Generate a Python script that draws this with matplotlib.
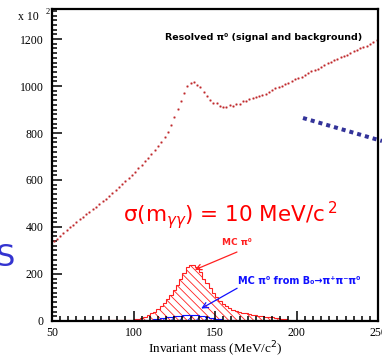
import numpy as np
import matplotlib.pyplot as plt
from matplotlib.lines import Line2D
from matplotlib.ticker import MultipleLocator

plt.rcParams['hatch.linewidth'] = 0.6

# resolved pi0 spectrum (signal + background), 2 MeV bins, centres 51..249
mass_centres = np.arange(51, 250, 2)
resolved = [340, 350, 362, 374, 386, 398, 410, 421, 432, 443,
            454, 465, 476, 487, 498, 509, 521, 533, 545, 557,
            569, 581, 594, 607, 621, 635, 649, 664, 679, 695,
            711, 727, 745, 763, 782, 803, 833, 868, 902, 936,
            972, 1000, 1013, 1017, 1004, 995, 975, 957, 940, 928,
            926, 915, 911, 911, 918, 917, 923, 924, 935, 936,
            945, 951, 953, 958, 963, 967, 975, 982, 990, 996,
            1001, 1008, 1014, 1021, 1028, 1034, 1040, 1048, 1055, 1062,
            1068, 1074, 1082, 1090, 1096, 1103, 1109, 1116, 1122, 1128,
            1134, 1141, 1147, 1153, 1160, 1165, 1172, 1179, 1186, 1196]

# MC pi0, bin edges 70..196
mc_edges = np.arange(70, 198, 2)
mc_pi0 = [1, 1, 1, 1, 1, 2, 2, 2, 3, 3,
          3, 4, 4, 5, 6, 8, 10, 14, 18, 24,
          32, 40, 50, 62, 76, 92, 110, 130, 155, 180,
          205, 230, 238, 240, 228, 210, 180, 160, 140, 120,
          100, 85, 72, 62, 54, 47, 42, 38, 35, 32,
          29, 27, 25, 22, 20, 18, 16, 15, 13, 11,
          9, 7, 4]

# MC pi0 from B0 -> pi+ pi- pi0, bin edges 98..164
b_edges = np.arange(98, 166, 2)
mc_b = [1, 2, 2, 3, 4, 5, 6, 8, 10, 12,
        14, 16, 18, 20, 22, 23, 24, 25, 25, 25,
        24, 22, 20, 17, 14, 11, 9, 7, 5, 4,
        3, 2, 1]

fig = plt.figure(figsize=(3.82, 3.59), dpi=100)
ax = fig.add_axes([0.136, 0.106, 0.854, 0.869])

ax.plot(mass_centres, resolved, ls='none', marker='s', ms=1.0,
        color='#c0282a', mec='#c0282a', mew=0.3)

ax.stairs(mc_pi0, mc_edges, fill=True, facecolor='none', edgecolor='#ff2020',
          hatch='\\\\\\\\', linewidth=0.8)
ax.stairs(mc_b, b_edges, fill=True, facecolor='none', edgecolor='#1010ff',
          hatch='////', linewidth=0.8)

ax.set_xlim(50, 250)
ax.set_ylim(0, 1328)
ax.xaxis.set_major_locator(MultipleLocator(50))
ax.xaxis.set_minor_locator(MultipleLocator(5))
ax.yaxis.set_major_locator(MultipleLocator(200))
ax.yaxis.set_minor_locator(MultipleLocator(20))
ax.tick_params(which='both', direction='in', width=1.1, labelsize=8.5,
               top=False, right=False)
ax.tick_params(which='major', length=7)
ax.tick_params(which='minor', length=3.5)
ax.tick_params(axis='y', pad=6)
ax.tick_params(axis='x', pad=4)
for lab in ax.get_xticklabels() + ax.get_yticklabels():
    lab.set_family('Liberation Serif')
for sp in ax.spines.values():
    sp.set_linewidth(1.6)

ax.set_xlabel('Invariant mass (MeV/c$^2$)', family='Liberation Serif',
              fontsize=9.5, labelpad=1)

ax.text(119, 1208, 'Resolved π⁰ (signal and background)', fontsize=6.8,
        fontweight='bold', va='center')
ax.text(154, 336, 'MC π⁰', fontsize=6.5, fontweight='bold', color='#ff2020',
        va='center')
ax.annotate('', xy=(136, 213), xytext=(165, 298),
            arrowprops=dict(arrowstyle='->', color='#ff2020', lw=0.9))
ax.text(164, 170, 'MC π⁰ from B₀→π⁺π⁻π⁰', fontsize=7, fontweight='bold',
        color='#1010ff', va='center')
ax.annotate('', xy=(140, 47), xytext=(165, 145),
            arrowprops=dict(arrowstyle='->', color='#1010ff', lw=0.9))

ax.text(93.6, 451, r'σ(m$_{\gamma\gamma}$) = 10 MeV/c$^{\,2}$', fontsize=15.5,
        color='#ff0000', va='center')

fig.text(18 / 382, 1 - 17 / 359, 'x 10', family='Liberation Serif',
         fontsize=8.5, va='center')
fig.text(46 / 382, 1 - 12 / 359, '2', family='Liberation Serif',
         fontsize=6, va='center')

# slide decorations
fig.text(15 / 382, 1 - 258 / 359, 'S', fontsize=22, color='#3434d0',
         ha='right', va='center')
fig.add_artist(Line2D([303 / 382, 1.0], [1 - 118 / 359, 1 - 141 / 359],
                      color='#333399', lw=2.9, dashes=(1, 1)))

fig.savefig('out.png', dpi=100)
